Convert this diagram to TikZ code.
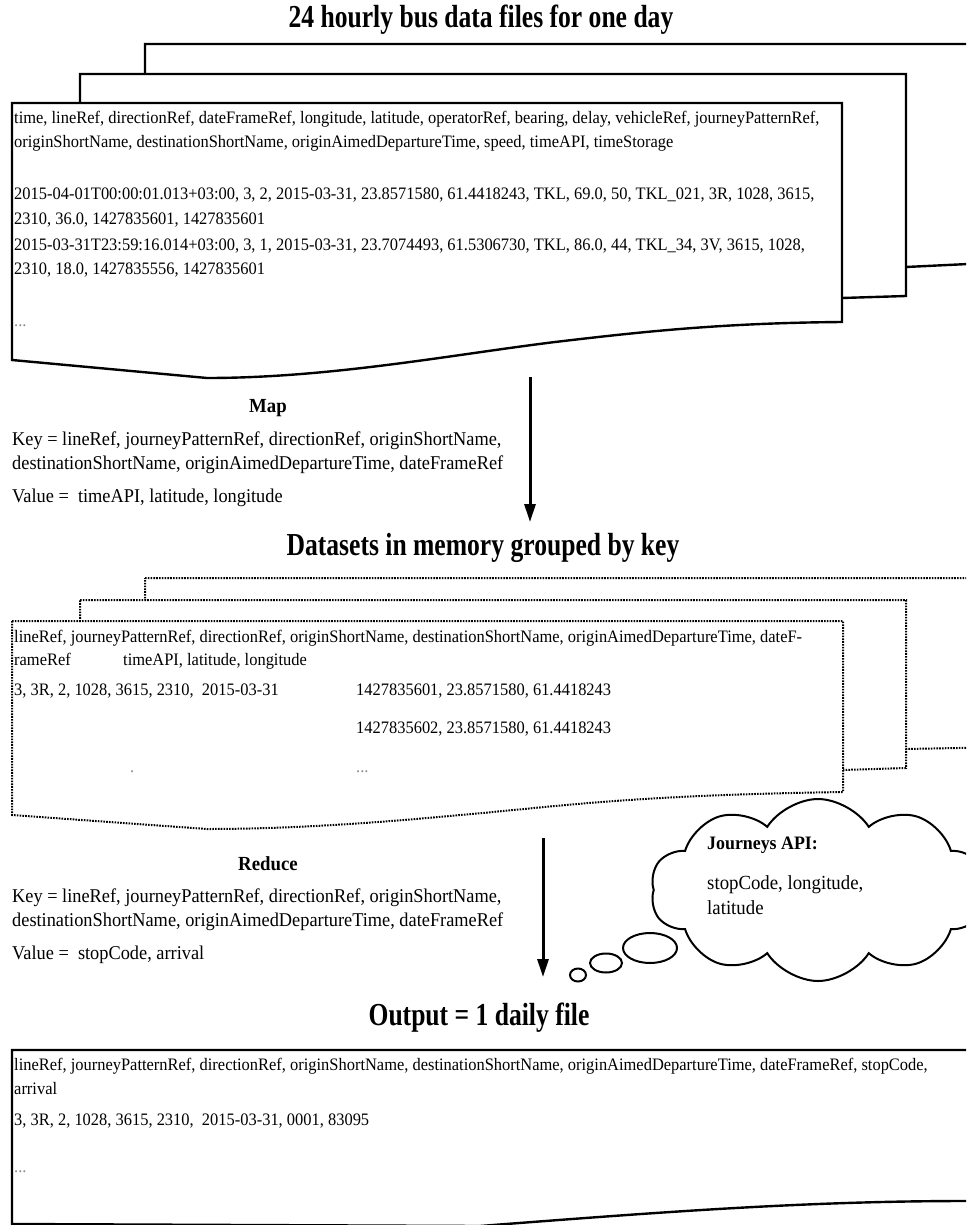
\documentclass[tikz,border=0pt]{standalone}
\usepackage{fontspec}
\setmainfont{Liberation Serif}
\newfontfamily\bodyf[FakeStretch=0.94]{Liberation Serif}
\newfontfamily\titlef[FakeStretch=0.8]{Liberation Serif}
\usetikzlibrary{arrows.meta,shapes.symbols,shapes.geometric}
\begin{document}
\begin{tikzpicture}[x=1pt,y=-1pt,
  sheet/.style={draw=black, fill=white, line width=2.4pt, line join=miter},
  dsheet/.style={draw=black, fill=white, line width=2pt, dash pattern=on 1.6pt off 1.2pt},
  txt/.style={anchor=mid west, inner sep=0, font=\bodyf\fontsize{17.5}{20}\selectfont},
  keytxt/.style={anchor=mid west, inner sep=0, font=\bodyf\fontsize{19.5}{22}\selectfont},
  cltxt/.style={anchor=mid west, inner sep=0, font=\bodyf\fontsize{20}{22}\selectfont},
  dots/.style={txt, text=black!45},
  ttl/.style={inner sep=0, font=\titlef\bfseries\fontsize{32}{36}\selectfont},
  lbl/.style={inner sep=0, font=\bodyf\bfseries\fontsize{20}{22}\selectfont},
  flow/.style={line width=3pt, -{Triangle[width=11pt,length=18pt]}},
  bubble/.style={draw=black, fill=white, line width=2pt, ellipse, inner sep=0}]
\useasboundingbox (0,0) rectangle (966,1225);
\clip (0,0) rectangle (966,1225);

% ---------- title 1
\node[ttl] (t1) at (481,20) {24 hourly bus data files for one day};

% ---------- stack 1
\path[sheet] (145,44) -- (1010,44) -- (1010,262) -- (906,267) -- (145,267) -- cycle;
\path[sheet] (80,74) -- (906,74) -- (906,296) -- (842,298) -- (80,298) -- cycle;
\path[sheet] (12,103) -- (842,103) -- (842,322)
  .. controls (720,323) and (640,332) .. (555,342)
  .. controls (450,355) and (330,378) .. (207,378) -- (12,360) -- cycle;

\node[txt] (a1) at (14,121) {time, lineRef, directionRef, dateFrameRef, longitude, latitude, operatorRef, bearing, delay, vehicleRef, journeyPatternRef,};
\node[txt] (a2) at (14,145) {originShortName, destinationShortName, originAimedDepartureTime, speed, timeAPI, timeStorage};
\node[txt] (a3) at (14,197) {2015-04-01T00:00:01.013+03:00, 3, 2, 2015-03-31, 23.8571580, 61.4418243, TKL, 69.0, 50, TKL\_021, 3R, 1028, 3615,};
\node[txt] (a4) at (14,222) {2310, 36.0, 1427835601, 1427835601};
\node[txt] (a5) at (14,248) {2015-03-31T23:59:16.014+03:00, 3, 1, 2015-03-31, 23.7074493, 61.5306730, TKL, 86.0, 44, TKL\_34, 3V, 3615, 1028,};
\node[txt] (a6) at (14,272) {2310, 18.0, 1427835556, 1427835601};
\node[dots] (a7) at (14,324) {...};

% ---------- map
\coordinate (m1) at (530,377);
\coordinate (m2) at (530,522);
\draw[flow] (m1) -- (m2);
\node[lbl] (map) at (268,408) {Map};
\node[keytxt] (k1) at (12,443) {Key = lineRef, journeyPatternRef, directionRef, originShortName,};
\node[keytxt] (k2) at (12,467) {destinationShortName, originAimedDepartureTime, dateFrameRef};
\node[keytxt] (v1) at (12,500) {Value =\ \ timeAPI, latitude, longitude};

% ---------- title 2
\node[ttl] (t2) at (483,548) {Datasets in memory grouped by key};

% ---------- stack 2
\path[dsheet] (145,578) -- (1010,578) -- (1010,747) -- (906,749) -- (145,749) -- cycle;
\path[dsheet] (80,600) -- (906,600) -- (906,768) -- (843,770) -- (80,770) -- cycle;
\path[dsheet] (12,621) -- (843,621) -- (843,792)
  .. controls (720,794) and (640,798) .. (555,806)
  .. controls (450,816) and (330,829) .. (207,829) -- (12,815) -- cycle;

\node[txt] (b1) at (14,640) {lineRef, journeyPatternRef, directionRef, originShortName, destinationShortName, originAimedDepartureTime, dateF-};
\node[txt] (b2) at (14,663) {rameRef};
\node[txt] (b2b) at (123,663) {timeAPI, latitude, longitude};
\node[txt] (b3) at (14,693) {3, 3R, 2, 1028, 3615, 2310,\ \ 2015-03-31};
\node[txt] (b3b) at (356,693) {1427835601, 23.8571580, 61.4418243};
\node[txt] (b4) at (356,731) {1427835602, 23.8571580, 61.4418243};
\node[dots] (b5) at (130,770) {.};
\node[dots] (b5b) at (356,770) {...};

% ---------- cloud
\node[cloud, draw=black, fill=white, line width=2pt, cloud puffs=10, cloud puff arc=115,
      aspect=1.9, minimum width=335pt, minimum height=182pt] (api) at (818,890) {};
\node[bubble, minimum width=54pt, minimum height=30pt] (bb1) at (650,948) {};
\node[bubble, minimum width=32pt, minimum height=19pt] (bb2) at (606,963) {};
\node[bubble, minimum width=16pt, minimum height=13pt] (bb3) at (578,975) {};
\node[cltxt, font=\bodyf\bfseries\fontsize{19}{22}\selectfont] (c1) at (707,847) {Journeys API:};
\node[cltxt] (c2) at (707,887) {stopCode, longitude,};
\node[cltxt] (c3) at (707,912) {latitude};

% ---------- reduce
\coordinate (r1) at (543,838);
\coordinate (r2) at (543,977);
\draw[flow] (r1) -- (r2);
\node[lbl] (red) at (268,864) {Reduce};
\node[keytxt] (k3) at (12,900) {Key = lineRef, journeyPatternRef, directionRef, originShortName,};
\node[keytxt] (k4) at (12,924) {destinationShortName, originAimedDepartureTime, dateFrameRef};
\node[keytxt] (v2) at (12,957) {Value =\ \ stopCode, arrival};

% ---------- title 3
\node[ttl] (t3) at (479,1018) {Output = 1 daily file};

% ---------- output file
\path[sheet] (12,1050) -- (1010,1050) -- (1010,1200) -- (966,1201)
  .. controls (800,1201) and (650,1213) .. (480,1226) -- (12,1224) -- cycle;
\node[txt] (o1) at (14,1068) {lineRef, journeyPatternRef, directionRef, originShortName, destinationShortName, originAimedDepartureTime, dateFrameRef, stopCode,};
\node[txt] (o2) at (14,1092) {arrival};
\node[txt] (o3) at (14,1123) {3, 3R, 2, 1028, 3615, 2310,\ \ 2015-03-31, 0001, 83095};
\node[dots] (o4) at (14,1170) {...};
\end{tikzpicture}
\end{document}
